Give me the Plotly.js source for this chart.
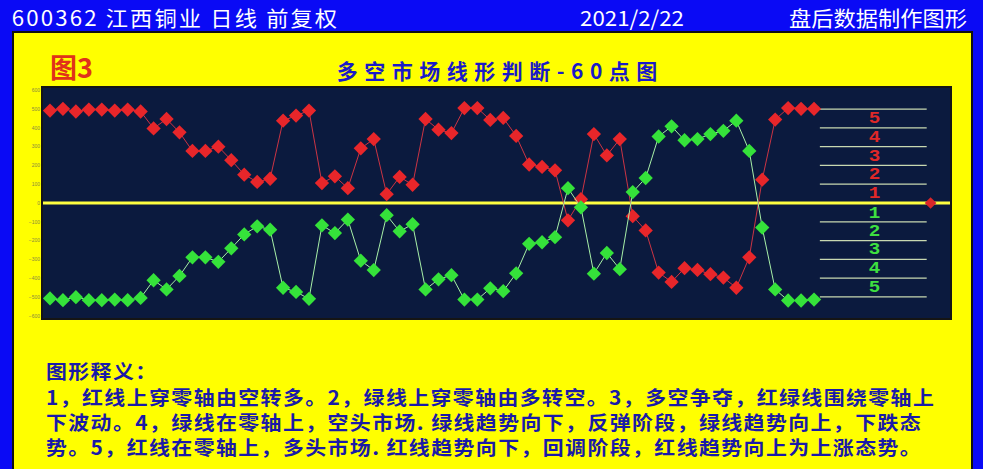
<!DOCTYPE html>
<html>
<head>
<meta charset="utf-8">
<script src="https://cdn.plot.ly/plotly-3.0.1.min.js"></script>
<style>
html,body{margin:0;padding:0;background:#0000f0;}
#chart{width:983px;height:469px;}
.annotation[data-index="3"] text{letter-spacing:6.5px;}
.hdr text{transform-box:fill-box;transform-origin:50% 50%;transform:scale(1.06,1.0);}
.hdrl text{letter-spacing:2px;}
.note text{letter-spacing:1.3px;transform-box:fill-box;transform-origin:0% 50%;transform:scale(1.1,1.02);}
.lvl text{transform-box:fill-box;transform-origin:50% 50%;transform:scale(1.6,1.3);}
</style>
</head>
<body>
<div id="chart"></div>
<script>
// ---- data ----
const idx = Array.from({length: 60}, (_, i) => i);
const redValues = [492,501,487,497,497,492,497,487,397,447,
                   376,277,277,300,228,151,112,129,438,465,
                   492,106,142,79,291,340,47,139,97,447,
                   390,372,505,505,442,453,357,205,192,174,
                   -92,20,367,253,340,-70,-146,-370,-420,-347,
                   -356,-379,-397,-451,-289,124,444,505,501,501];
const greenValues = [-508,-517,-501,-517,-517,-514,-517,-505,-411,-460,
                     -388,-289,-289,-313,-241,-167,-124,-142,-451,-473,
                     -510,-119,-160,-88,-307,-357,-65,-151,-113,-460,
                     -406,-384,-514,-514,-454,-469,-374,-217,-209,-182,
                     79,-23,-376,-266,-352,58,133,354,408,334,
                     340,367,384,438,277,-131,-460,-519,-519,-514];
const currentPoint = {x: [68], y: [0]};
const levelValues = [100, 200, 300, 400, 500];
const levelLabels = ["1", "2", "3", "4", "5"];
const redLabelY = [50, 148, 246, 344, 446];
const greenLabelY = [-56, -154, -252, -350, -452];
const yTicks = [-600,-500,-400,-300,-200,-100,0,100,200,300,400,500,600];

const headerLeft = "600362 江西铜业 日线 前复权";
const headerDate = "2021/2/22";
const headerRight = "盘后数据制作图形";
const chartTitle = "多空市场线形判断-60点图";
const figLabel = "图3";
const notes = [
  "图形释义：",
  "1，红线上穿零轴由空转多。2，绿线上穿零轴由多转空。3，多空争夺，红绿线围绕零轴上",
  "下波动。4，绿线在零轴上，空头市场. 绿线趋势向下，反弹阶段，绿线趋势向上，下跌态",
  "势。5，红线在零轴上，多头市场. 红线趋势向下，回调阶段，红线趋势向上为上涨态势。"
];

// ---- geometry helpers (pixel -> paper) ----
const L = 43, R = 950, T = 88, B = 318;
const px = v => (v - L) / (R - L);
const py = v => (B - v) / (B - T);

const CJK = '"Noto Sans CJK SC", "Noto Sans", sans-serif';

const traces = [
  {x: idx, y: redValues, type: 'scatter', mode: 'lines+markers',
   line: {color: '#cc3444', width: 1},
   marker: {symbol: 'diamond', size: 11, color: '#e8262a', line: {width: 0}},
   hoverinfo: 'none', showlegend: false},
  {x: idx, y: greenValues, type: 'scatter', mode: 'lines+markers',
   line: {color: '#a8f0a8', width: 1},
   marker: {symbol: 'diamond', size: 11, color: '#35e23a', line: {width: 0}},
   hoverinfo: 'none', showlegend: false},
  {x: currentPoint.x, y: currentPoint.y, type: 'scatter', mode: 'markers',
   marker: {symbol: 'diamond', size: 9, color: '#d8262a'},
   hoverinfo: 'none', showlegend: false}
];

const shapes = [
  {type: 'rect', xref: 'paper', yref: 'paper', x0: px(-5), x1: px(990), y0: py(32), y1: py(-5),
   fillcolor: '#0a0af5', line: {width: 0}, layer: 'below'},
  {type: 'rect', xref: 'paper', yref: 'paper', x0: px(-5), x1: px(13), y0: py(475), y1: py(32),
   fillcolor: '#0a0af5', line: {width: 0}, layer: 'below'},
  {type: 'rect', xref: 'paper', yref: 'paper', x0: px(972), x1: px(990), y0: py(475), y1: py(32),
   fillcolor: '#0a0af5', line: {width: 0}, layer: 'below'},
  {type: 'rect', xref: 'paper', yref: 'paper', x0: px(13), x1: px(972), y0: py(472), y1: py(32),
   fillcolor: 'rgba(0,0,0,0)', line: {width: 2, color: '#101010'}, layer: 'below'},
  {type: 'line', xref: 'paper', yref: 'y', x0: 0, x1: 1, y0: 0, y1: 0,
   line: {color: '#ffff40', width: 3}, layer: 'below'}
];
levelValues.forEach(v => {
  [v, -v].forEach(val => shapes.push({type: 'line', xref: 'x', yref: 'y',
    x0: 59.45, x1: 67.7, y0: val, y1: val,
    line: {color: '#c8d8b0', width: 1.3}, layer: 'below'}));
});

const cls = [];
const annotations = [
  {xref: 'paper', yref: 'paper', x: px(20 + 17 * 1.06), y: py(17), xanchor: 'left', yanchor: 'middle',
   text: headerLeft, showarrow: false, borderpad: 0, font: {family: CJK, size: 21, color: '#ffffff'}},
  {xref: 'paper', yref: 'paper', x: px(582), y: py(17), xanchor: 'left', yanchor: 'middle',
   text: headerDate, showarrow: false, borderpad: 0, font: {family: CJK, size: 21, color: '#ffffff'}},
  {xref: 'paper', yref: 'paper', x: px(963), y: py(17), xanchor: 'right', yanchor: 'middle',
   text: headerRight, showarrow: false, borderpad: 0, font: {family: CJK, size: 21, color: '#ffffff'}},
  {xref: 'paper', yref: 'paper', x: px(500), y: py(70), xanchor: 'center', yanchor: 'middle',
   text: '<b>' + chartTitle + '</b>', showarrow: false, font: {family: CJK, size: 21, color: '#1a1ac8'}},
  {xref: 'paper', yref: 'paper', x: px(48), y: py(66), xanchor: 'left', yanchor: 'middle',
   text: '<b>' + figLabel + '</b>', showarrow: false, font: {family: CJK, size: 27, color: '#e0321a'}}
];
cls.push('hdr hdrl', 'hdr', 'hdr', '', '');
annotations.push({xref: 'paper', yref: 'paper', x: px(45), y: py(408),
  xanchor: 'left', yanchor: 'middle', align: 'left',
  text: notes.map(t => '<b>' + t + '</b>').join('<br>'), showarrow: false, borderpad: 0,
  font: {family: CJK, size: 19, color: '#1a1aa8'}});
cls.push('note');
levelLabels.forEach((t, i) => {
  annotations.push({xref: 'x', yref: 'y', x: 63.7, y: redLabelY[i], text: '<b>' + t + '</b>',
    showarrow: false, borderpad: 0, font: {family: '"Liberation Mono", monospace', size: 12, color: '#e02828'}});
  annotations.push({xref: 'x', yref: 'y', x: 63.7, y: greenLabelY[i], text: '<b>' + t + '</b>',
    showarrow: false, borderpad: 0, font: {family: '"Liberation Mono", monospace', size: 12, color: '#3ee040'}});
  cls.push('lvl', 'lvl');
});

const layout = {
  width: 983, height: 469,
  margin: {l: L, r: 983 - R, t: T, b: 469 - B, pad: 0},
  paper_bgcolor: '#ffff00',
  plot_bgcolor: '#0b1a3e',
  showlegend: false,
  xaxis: {range: [-0.54, 69.5], showgrid: false, zeroline: false, showticklabels: false,
          ticks: '', showline: true, mirror: true, linecolor: '#151515', linewidth: 2, fixedrange: true},
  yaxis: {range: [-612, 612], showgrid: false, zeroline: false, tickvals: yTicks,
          tickfont: {size: 5, color: '#8a8a40', family: 'Arial'}, ticks: '',
          showline: true, mirror: true, linecolor: '#151515', linewidth: 2, fixedrange: true},
  shapes: shapes,
  annotations: annotations
};

Plotly.newPlot('chart', traces, layout, {staticPlot: true, displayModeBar: false}).then(gd => {
  gd.querySelectorAll('.annotation').forEach(a => {
    const k = +a.getAttribute('data-index');
    if (cls[k]) cls[k].split(' ').forEach(c => a.classList.add(c));
  });
});
</script>
</body>
</html>
